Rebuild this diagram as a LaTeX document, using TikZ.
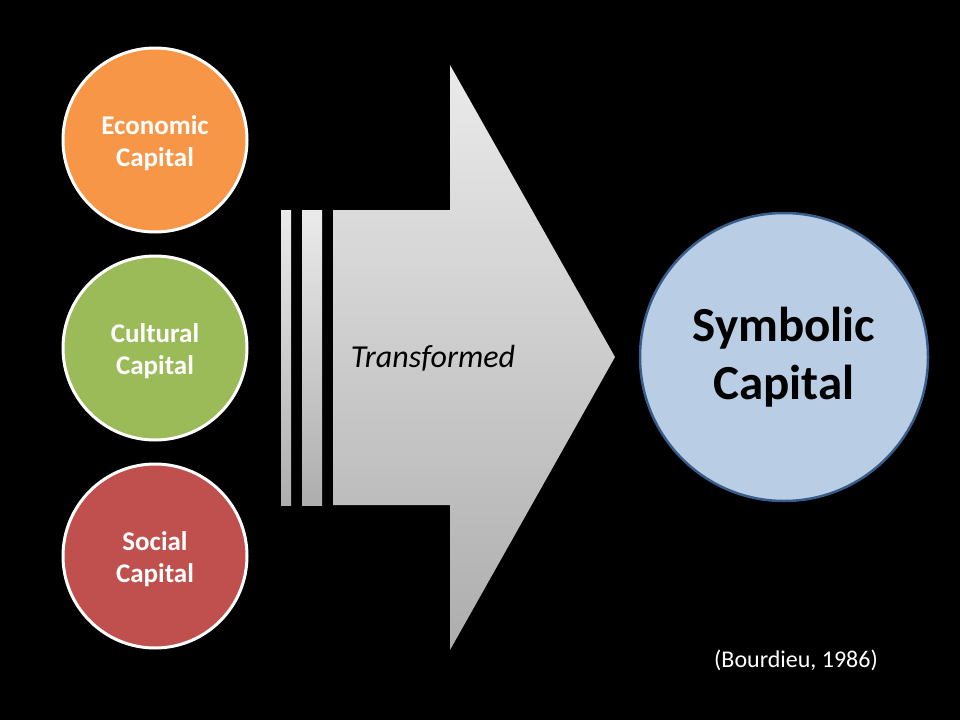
\documentclass[tikz,border=0pt]{standalone}
\usepackage{fontspec}
\setmainfont{Carlito}
\begin{document}
\begin{tikzpicture}[x=1pt,y=-1pt,
  capcircle/.style={circle,draw=white,line width=3pt,minimum size=184pt,inner sep=0pt,text=white,font=\bfseries\fontsize{27}{32}\selectfont,align=center},
  lbl/.style={text=white,font=\bfseries\fontsize{27}{32}\selectfont,align=center},
  gr/.style={top color=white!92!black,bottom color=white!68!black,draw=none}]
\fill[black] (0,0) rectangle (960,720);
\useasboundingbox (0,0) rectangle (960,720);
\node[capcircle,fill={rgb,255:red,247;green,150;blue,70}] (eco) at (155,140) {};
\node[capcircle,fill={rgb,255:red,155;green,187;blue,89}] (cul) at (155,348) {};
\node[capcircle,fill={rgb,255:red,192;green,80;blue,77}] (soc) at (155,556) {};
\node[lbl] (ecot) at (155,143) {Economic\\Capital};
\node[lbl] (cult) at (155,351) {Cultural\\Capital};
\node[lbl] (soct) at (155,559) {Social\\Capital};
\shade[gr] (281,210) rectangle (291,505);
\shade[gr] (302,210) rectangle (322,505);
\shade[gr] (333,210) -- (450,210) -- (450,65) -- (615,357) -- (450,650) -- (450,505) -- (333,505) -- cycle;
\node[font=\itshape\fontsize{32}{36}\selectfont] (tr) at (433,358) {Transformed};
\node[circle,draw={rgb,255:red,56;green,93;blue,138},line width=2.5pt,fill={rgb,255:red,185;green,205;blue,229},minimum size=288pt,inner sep=0pt,align=center,font=\bfseries\fontsize{49}{58}\selectfont] (sym) at (784,357) {Symbolic\\Capital};
\node[text=white,font=\fontsize{24}{28}\selectfont] (ref) at (796,660) {(Bourdieu, 1986)};
\end{tikzpicture}
\end{document}
